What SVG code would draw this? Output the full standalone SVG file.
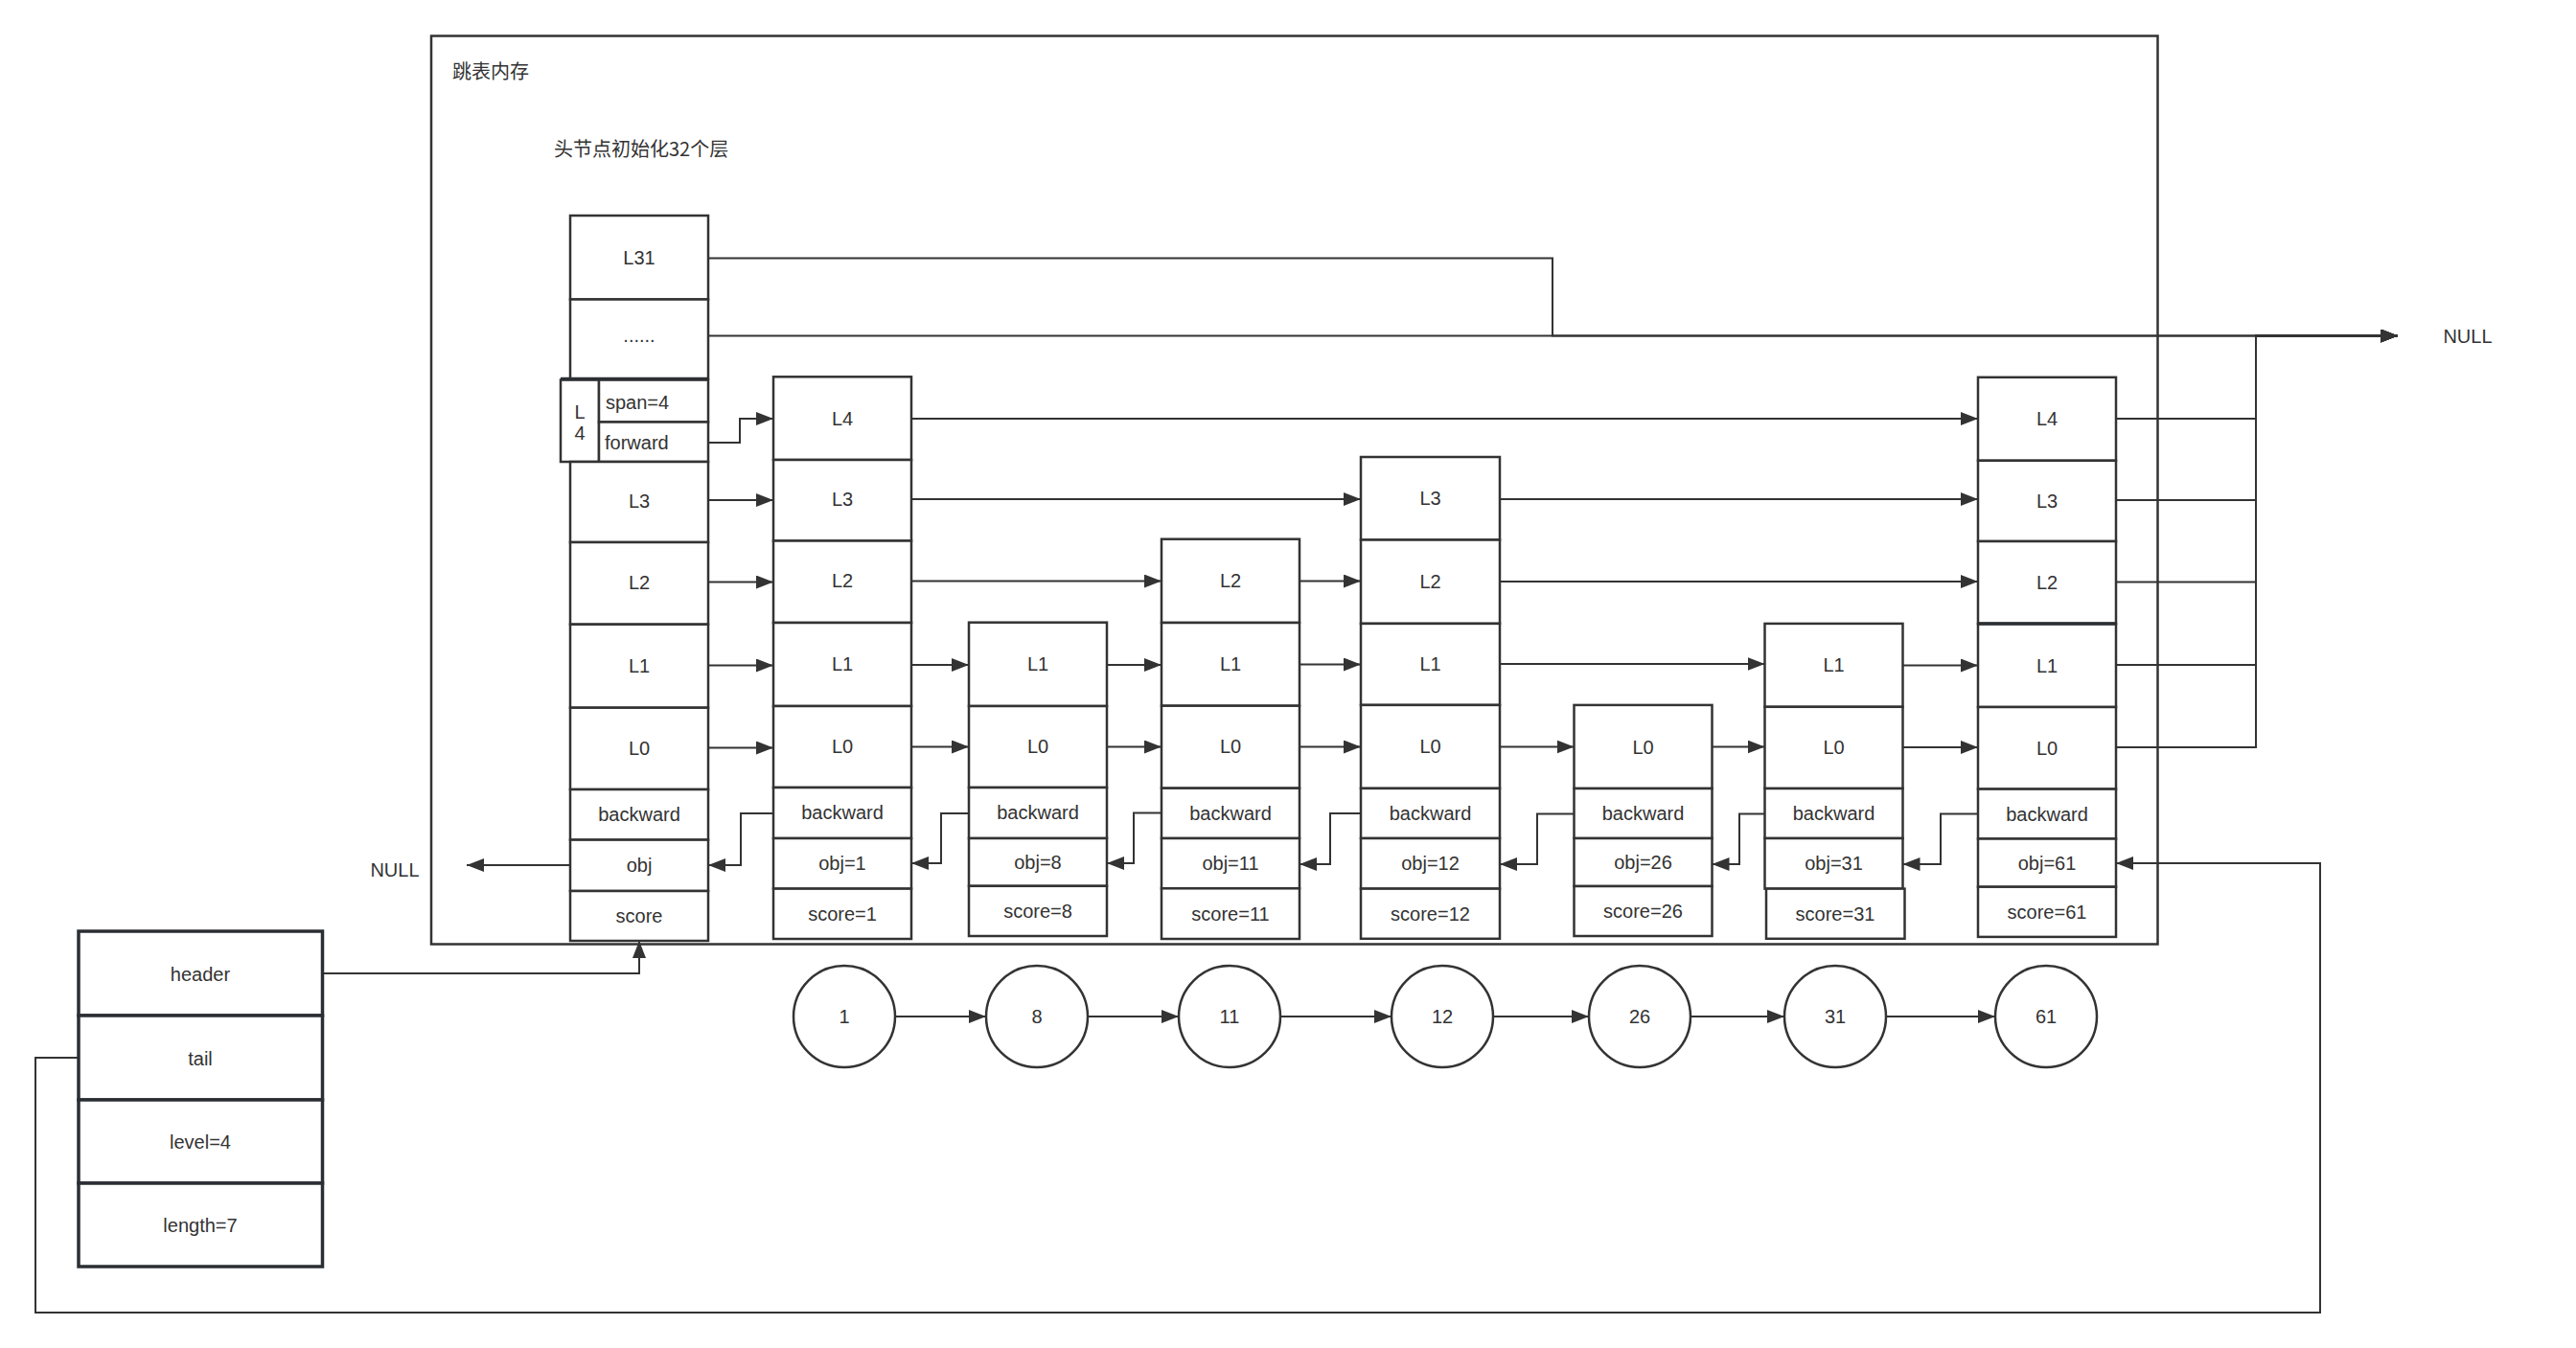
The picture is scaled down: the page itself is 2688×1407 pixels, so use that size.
<svg xmlns="http://www.w3.org/2000/svg" width="2688" height="1407" viewBox="0 0 2688 1407">
<defs>
<marker id="ah" viewBox="0 0 18 14" refX="18" refY="7" markerWidth="18" markerHeight="14" orient="auto" markerUnits="userSpaceOnUse">
<path d="M0,0 L18,7 L0,14 Z" fill="#333"/>
</marker>
</defs>
<style>
.c{fill:#fff;stroke:#333;stroke-width:2.5}
.s{fill:#fff;stroke:#2b2f33;stroke-width:3.5}
.t{font-family:"Liberation Sans",Arial,sans-serif;font-size:20px;fill:#333;text-anchor:middle;dominant-baseline:central}
.tl{font-family:"Liberation Sans",Arial,sans-serif;font-size:20px;fill:#333;text-anchor:start;dominant-baseline:central}
.cjk{font-family:"Noto Sans CJK SC","Liberation Sans",sans-serif;font-size:20px;fill:#333;dominant-baseline:central}
.e{fill:none;stroke:#333;stroke-width:2}
.a{fill:none;stroke:#333;stroke-width:2;marker-end:url(#ah)}
.ci{fill:#fff;stroke:#333;stroke-width:2.5}
</style>
<rect width="2688" height="1407" fill="#fff"/>

<g id="memory-frame">
<rect x="450" y="37.5" width="1801.5" height="948" fill="none" stroke="#333" stroke-width="2.5"/>
<text class="cjk" x="472" y="73">跳表内存</text>
<text class="cjk" x="578" y="154">头节点初始化32个层</text>
</g>

<g id="connectors">
<!-- header node to NULL -->
<path class="a" d="M739,269.5 H1620 V350.5 H2502"/>
<path class="a" d="M739,350.5 H2502"/>
<!-- node 61 levels to NULL -->
<path class="a" d="M2208,437 H2354 V350.5 H2502"/>
<path class="a" d="M2208,522 H2354 V350.5 H2502"/>
<path class="a" d="M2208,607.5 H2354 V350.5 H2502"/>
<path class="a" d="M2208,694 H2354 V350.5 H2502"/>
<path class="a" d="M2208,780 H2354 V350.5 H2502"/>
<!-- forward -->
<path class="a" d="M739,462 H772 V437 H807"/>
<!-- header levels -->
<path class="a" d="M739,522 H807"/>
<path class="a" d="M739,607.5 H807"/>
<path class="a" d="M739,694.5 H807"/>
<path class="a" d="M739,780.5 H807"/>
<!-- node 1 -->
<path class="a" d="M951,437 H2064"/>
<path class="a" d="M951,521 H1420"/>
<path class="a" d="M951,606.5 H1212"/>
<path class="a" d="M951,694 H1011"/>
<path class="a" d="M951,779.5 H1011"/>
<!-- node 8 -->
<path class="a" d="M1155,694 H1212"/>
<path class="a" d="M1155,779.5 H1212"/>
<!-- node 11 -->
<path class="a" d="M1356,606.5 H1420"/>
<path class="a" d="M1356,693.5 H1420"/>
<path class="a" d="M1356,779.5 H1420"/>
<!-- node 12 -->
<path class="a" d="M1565,521 H2064"/>
<path class="a" d="M1565,607 H2064"/>
<path class="a" d="M1565,693 H1841.5"/>
<path class="a" d="M1565,779.5 H1642.5"/>
<!-- node 26 -->
<path class="a" d="M1786.5,779.5 H1841.5"/>
<!-- node 31 -->
<path class="a" d="M1985.5,694.5 H2064"/>
<path class="a" d="M1985.5,780 H2064"/>
<!-- backward -->
<path class="a" d="M807,849 H773 V903 H739"/>
<path class="a" d="M1011,849 H982 V901 H951"/>
<path class="a" d="M1212,848.5 H1183 V901 H1155"/>
<path class="a" d="M1420,849 H1388 V902 H1356"/>
<path class="a" d="M1642.5,849.5 H1604 V902 H1565"/>
<path class="a" d="M1841.5,849.5 H1815 V902 H1786.5"/>
<path class="a" d="M2064,849.5 H2025 V902 H1985.5"/>
<!-- header obj to NULL -->
<path class="a" d="M595,903 H487"/>
<!-- list header / tail -->
<path class="a" d="M336.5,1016 H667 V982"/>
<path class="a" d="M82,1104 H37 V1370 H2421 V901 H2208"/>
<!-- circles -->
<path class="a" d="M934,1061 H1029"/>
<path class="a" d="M1135,1061 H1230"/>
<path class="a" d="M1336,1061 H1452"/>
<path class="a" d="M1558,1061 H1658"/>
<path class="a" d="M1764,1061 H1862"/>
<path class="a" d="M1968,1061 H2082"/>
</g>

<g id="null-right"><text class="t" x="2575" y="351">NULL</text></g>
<g id="null-left"><text class="t" x="412" y="908">NULL</text></g>

<g id="header-node">
<rect class="c" x="595" y="225" width="144" height="87.5"/>
<text class="t" x="667" y="269">L31</text>
<rect class="c" x="595" y="312.5" width="144" height="83"/>
<text class="t" x="667" y="350">......</text>
<rect class="c" x="585" y="396.5" width="40" height="85.5" stroke-width="3"/>
<text class="t" x="605" y="430">L</text>
<text class="t" x="605" y="452">4</text>
<rect class="c" x="625" y="396.5" width="114" height="44"/>
<text class="tl" x="632" y="420">span=4</text>
<rect class="c" x="625" y="440.5" width="114" height="41.5"/>
<text class="tl" x="631" y="462">forward</text>
<line x1="585" y1="395.5" x2="739" y2="395.5" stroke="#2b2f33" stroke-width="3.5"/>
<rect class="c" x="595" y="482" width="144" height="84"/>
<text class="t" x="667" y="523">L3</text>
<rect class="c" x="595" y="566" width="144" height="85.7"/>
<text class="t" x="667" y="608">L2</text>
<rect class="c" x="595" y="651.7" width="144" height="87"/>
<text class="t" x="667" y="695">L1</text>
<rect class="c" x="595" y="738.7" width="144" height="85.3"/>
<text class="t" x="667" y="781">L0</text>
<rect class="c" x="595" y="824" width="144" height="52.6"/>
<text class="t" x="667" y="850">backward</text>
<rect class="c" x="595" y="876.6" width="144" height="53.4"/>
<text class="t" x="667" y="903">obj</text>
<rect class="c" x="595" y="930" width="144" height="52"/>
<text class="t" x="667" y="956">score</text>
</g>

<g id="node-1">
<rect class="c" x="807" y="393.3" width="144" height="86.7"/>
<text class="t" x="879" y="437">L4</text>
<rect class="c" x="807" y="480" width="144" height="84.5"/>
<text class="t" x="879" y="521">L3</text>
<rect class="c" x="807" y="564.5" width="144" height="85.5"/>
<text class="t" x="879" y="606">L2</text>
<rect class="c" x="807" y="650" width="144" height="87"/>
<text class="t" x="879" y="693">L1</text>
<rect class="c" x="807" y="737" width="144" height="85"/>
<text class="t" x="879" y="779">L0</text>
<rect class="c" x="807" y="822" width="144" height="53"/>
<text class="t" x="879" y="848">backward</text>
<rect class="c" x="807" y="875" width="144" height="52.6"/>
<text class="t" x="879" y="901">obj=1</text>
<rect class="c" x="807" y="927.6" width="144" height="52.4"/>
<text class="t" x="879" y="954">score=1</text>
</g>

<g id="node-8">
<rect class="c" x="1011" y="649.7" width="144" height="87.3"/>
<text class="t" x="1083" y="693">L1</text>
<rect class="c" x="1011" y="737" width="144" height="85"/>
<text class="t" x="1083" y="779">L0</text>
<rect class="c" x="1011" y="822" width="144" height="53"/>
<text class="t" x="1083" y="848">backward</text>
<rect class="c" x="1011" y="875" width="144" height="49.8"/>
<text class="t" x="1083" y="900">obj=8</text>
<rect class="c" x="1011" y="924.8" width="144" height="52.2"/>
<text class="t" x="1083" y="951">score=8</text>
</g>

<g id="node-11">
<rect class="c" x="1212" y="562.7" width="144" height="87.3"/>
<text class="t" x="1284" y="606">L2</text>
<rect class="c" x="1212" y="650" width="144" height="86.7"/>
<text class="t" x="1284" y="693">L1</text>
<rect class="c" x="1212" y="736.7" width="144" height="86"/>
<text class="t" x="1284" y="779">L0</text>
<rect class="c" x="1212" y="822.7" width="144" height="52.3"/>
<text class="t" x="1284" y="849">backward</text>
<rect class="c" x="1212" y="875" width="144" height="52.3"/>
<text class="t" x="1284" y="901">obj=11</text>
<rect class="c" x="1212" y="927.3" width="144" height="52.7"/>
<text class="t" x="1284" y="954">score=11</text>
</g>

<g id="node-12">
<rect class="c" x="1420" y="477" width="145" height="86.5"/>
<text class="t" x="1492.5" y="520">L3</text>
<rect class="c" x="1420" y="563.5" width="145" height="87.4"/>
<text class="t" x="1492.5" y="607">L2</text>
<rect class="c" x="1420" y="650.9" width="145" height="85"/>
<text class="t" x="1492.5" y="693">L1</text>
<rect class="c" x="1420" y="735.9" width="145" height="87"/>
<text class="t" x="1492.5" y="779">L0</text>
<rect class="c" x="1420" y="822.9" width="145" height="52.1"/>
<text class="t" x="1492.5" y="849">backward</text>
<rect class="c" x="1420" y="875" width="145" height="52.6"/>
<text class="t" x="1492.5" y="901">obj=12</text>
<rect class="c" x="1420" y="927.6" width="145" height="52.2"/>
<text class="t" x="1492.5" y="954">score=12</text>
</g>

<g id="node-26">
<rect class="c" x="1642.5" y="735.9" width="144" height="87.1"/>
<text class="t" x="1714.5" y="779.5">L0</text>
<rect class="c" x="1642.5" y="823" width="144" height="52"/>
<text class="t" x="1714.5" y="849">backward</text>
<rect class="c" x="1642.5" y="875" width="144" height="50"/>
<text class="t" x="1714.5" y="900">obj=26</text>
<rect class="c" x="1642.5" y="925" width="144" height="52"/>
<text class="t" x="1714.5" y="951">score=26</text>
</g>

<g id="node-31">
<rect class="c" x="1841.5" y="650.9" width="144" height="86.9"/>
<text class="t" x="1913.5" y="694">L1</text>
<rect class="c" x="1841.5" y="737.8" width="144" height="85.2"/>
<text class="t" x="1913.5" y="780">L0</text>
<rect class="c" x="1841.5" y="823" width="144" height="52"/>
<text class="t" x="1913.5" y="849">backward</text>
<rect class="c" x="1841.5" y="875" width="144" height="52.6"/>
<text class="t" x="1913.5" y="901">obj=31</text>
<rect class="c" x="1843" y="927.6" width="144.5" height="52.2"/>
<text class="t" x="1915" y="954">score=31</text>
</g>

<g id="node-61">
<rect class="c" x="2064" y="393.8" width="144" height="87"/>
<text class="t" x="2136" y="437">L4</text>
<rect class="c" x="2064" y="480.8" width="144" height="84.2"/>
<text class="t" x="2136" y="523">L3</text>
<rect class="c" x="2064" y="565" width="144" height="86"/>
<text class="t" x="2136" y="608">L2</text>
<rect class="c" x="2064" y="651" width="144" height="87"/>
<text class="t" x="2136" y="694.5">L1</text>
<rect class="c" x="2064" y="738" width="144" height="85.6"/>
<text class="t" x="2136" y="781">L0</text>
<rect class="c" x="2064" y="823.6" width="144" height="51.9"/>
<text class="t" x="2136" y="850">backward</text>
<rect class="c" x="2064" y="875.5" width="144" height="50.2"/>
<text class="t" x="2136" y="901">obj=61</text>
<rect class="c" x="2064" y="925.7" width="144" height="52.2"/>
<text class="t" x="2136" y="952">score=61</text>
<line x1="2064" y1="651" x2="2208" y2="651" stroke="#2b2f33" stroke-width="3.5"/>
</g>

<g id="zskiplist">
<rect class="s" x="82" y="972" width="254.5" height="88"/>
<text class="t" x="209" y="1017">header</text>
<rect class="s" x="82" y="1060" width="254.5" height="88"/>
<text class="t" x="209" y="1105">tail</text>
<rect class="s" x="82" y="1148" width="254.5" height="87"/>
<text class="t" x="209" y="1192">level=4</text>
<rect class="s" x="82" y="1235" width="254.5" height="87"/>
<text class="t" x="209" y="1279">length=7</text>
</g>

<g id="circle-1"><circle class="ci" cx="881" cy="1061" r="53"/><text class="t" x="881" y="1061">1</text></g>
<g id="circle-8"><circle class="ci" cx="1082" cy="1061" r="53"/><text class="t" x="1082" y="1061">8</text></g>
<g id="circle-11"><circle class="ci" cx="1283" cy="1061" r="53"/><text class="t" x="1283" y="1061">11</text></g>
<g id="circle-12"><circle class="ci" cx="1505" cy="1061" r="53"/><text class="t" x="1505" y="1061">12</text></g>
<g id="circle-26"><circle class="ci" cx="1711" cy="1061" r="53"/><text class="t" x="1711" y="1061">26</text></g>
<g id="circle-31"><circle class="ci" cx="1915" cy="1061" r="53"/><text class="t" x="1915" y="1061">31</text></g>
<g id="circle-61"><circle class="ci" cx="2135" cy="1061" r="53"/><text class="t" x="2135" y="1061">61</text></g>
</svg>
